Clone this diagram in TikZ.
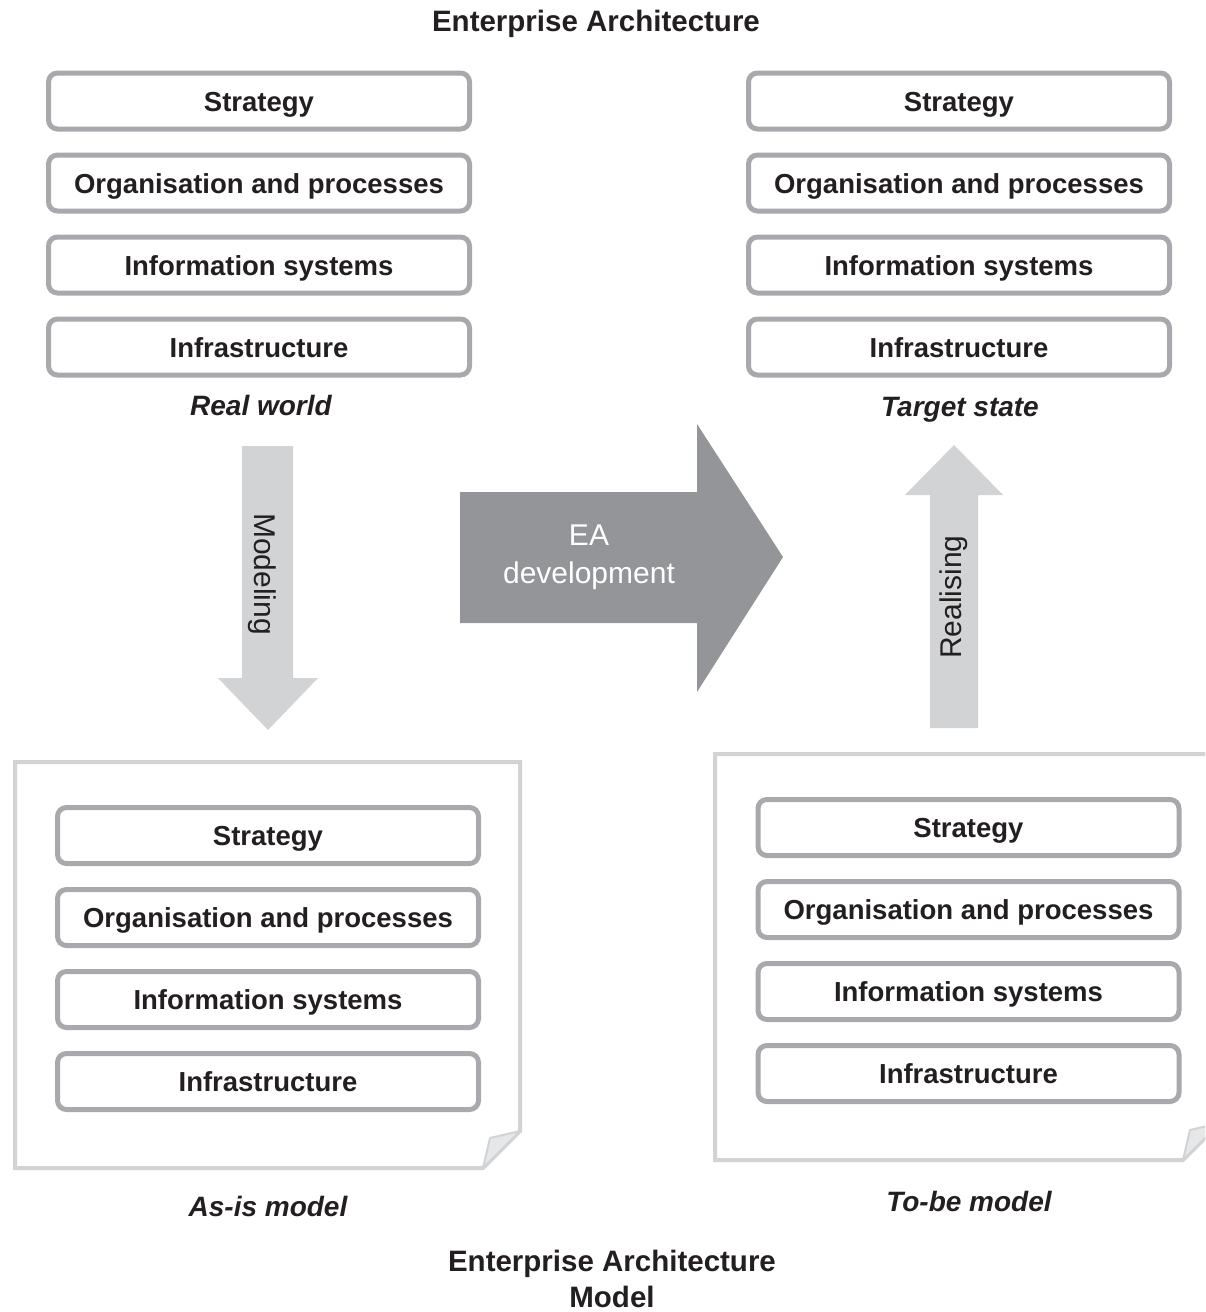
\documentclass[tikz,border=0pt]{standalone}
\usepackage{fontspec}
\setmainfont{Liberation Sans}
\usepackage{tikz}
\usetikzlibrary{positioning}
\usepackage{xcolor}
\definecolor{layergray}{HTML}{A7A9AC}
\definecolor{pagegray}{HTML}{D1D3D4}
\definecolor{flapgray}{HTML}{E6E7E8}
\definecolor{devgray}{HTML}{939598}
\definecolor{inkblack}{HTML}{231F20}

\begin{document}
\begin{tikzpicture}[x=1pt,y=-1pt,node distance=21pt,
	layer/.style={draw=layergray,line width=5pt,rounded corners=9pt,fill=white,
		minimum width=421pt,minimum height=56pt,inner sep=0pt,text=inkblack,
		font=\bfseries\fontsize{27.5}{33}\selectfont,text height=20pt,text depth=0pt},
	caption/.style={text=inkblack,inner sep=0pt,font=\bfseries\itshape\fontsize{28}{33}\selectfont,
		text height=20pt,text depth=0pt},
	heading/.style={text=inkblack,inner sep=0pt,anchor=north,align=center,
		font=\bfseries\fontsize{29.5}{36}\selectfont},
	arrowtext/.style={inner sep=0pt,font=\fontsize{30}{38}\selectfont},
	page/.style={draw=pagegray,line width=4pt,fill=white},
	flap/.style={draw=pagegray,line width=2pt,fill=flapgray,line join=round}]

	\useasboundingbox (0,0) rectangle (1205,1312);

	\node[heading] (eaTitle) at (596,10) {Enterprise Architecture};

	% real world
	\node[layer] (rwStrategy) at (259,101) {Strategy};
	\node[layer,below=of rwStrategy] (rwOrg) {Organisation and processes};
	\node[layer,below=of rwOrg] (rwInfo) {Information systems};
	\node[layer,below=of rwInfo] (rwInfra) {Infrastructure};
	\node[caption] (rwLabel) at (261,405) {Real world};

	% target state
	\node[layer] (tsStrategy) at (959,101) {Strategy};
	\node[layer,below=of tsStrategy] (tsOrg) {Organisation and processes};
	\node[layer,below=of tsOrg] (tsInfo) {Information systems};
	\node[layer,below=of tsInfo] (tsInfra) {Infrastructure};
	\node[caption] (tsLabel) at (960,406) {Target state};

	% arrows
	\fill[pagegray] (242,446) -- (293,446) -- (293,678) -- (318,678) -- (268,730)
		-- (218,678) -- (242,678) -- cycle;
	\node[arrowtext,text=inkblack,rotate=-90,text height=21.5pt,text depth=0pt] (modeling) at (265,574) {Modeling};

	\fill[devgray] (460,492) -- (697,492) -- (697,424) -- (783,557) -- (697,692)
		-- (697,623) -- (460,623) -- cycle;
	\node[arrowtext,text=white,align=center] (eaDev) at (589,557) {EA\\development};

	\fill[pagegray] (930,728) -- (978,728) -- (978,495) -- (1003,495) -- (954,445)
		-- (905,495) -- (930,495) -- cycle;
	\node[arrowtext,text=inkblack,rotate=90,text height=21.5pt,text depth=0pt] (realising) at (951,597) {Realising};

	% model pages
	\draw[page] (15,762) -- (520,762) -- (520,1131) -- (483,1168) -- (15,1168) -- cycle;
	\draw[flap] (520,1131) -- (490,1138) -- (483,1168) -- cycle;
	\begin{scope}
		\clip (0,0) rectangle (1205,1312);
		\draw[page] (715,754) -- (1220,754) -- (1220,1123) -- (1183,1160) -- (715,1160) -- cycle;
		\draw[flap] (1220,1123) -- (1190,1130) -- (1183,1160) -- cycle;
	\end{scope}

	% as-is model
	\node[layer] (asStrategy) at (268,835.5) {Strategy};
	\node[layer,below=of asStrategy] (asOrg) {Organisation and processes};
	\node[layer,below=of asOrg] (asInfo) {Information systems};
	\node[layer,below=of asInfo] (asInfra) {Infrastructure};
	\node[caption] (asLabel) at (268,1206) {As-is model};

	% to-be model
	\node[layer] (tbStrategy) at (968.5,827.5) {Strategy};
	\node[layer,below=of tbStrategy] (tbOrg) {Organisation and processes};
	\node[layer,below=of tbOrg] (tbInfo) {Information systems};
	\node[layer,below=of tbInfo] (tbInfra) {Infrastructure};
	\node[caption] (tbLabel) at (969,1201) {To-be model};

	\node[heading] (eaModel) at (612,1250) {Enterprise Architecture\\Model};

\end{tikzpicture}
\end{document}
